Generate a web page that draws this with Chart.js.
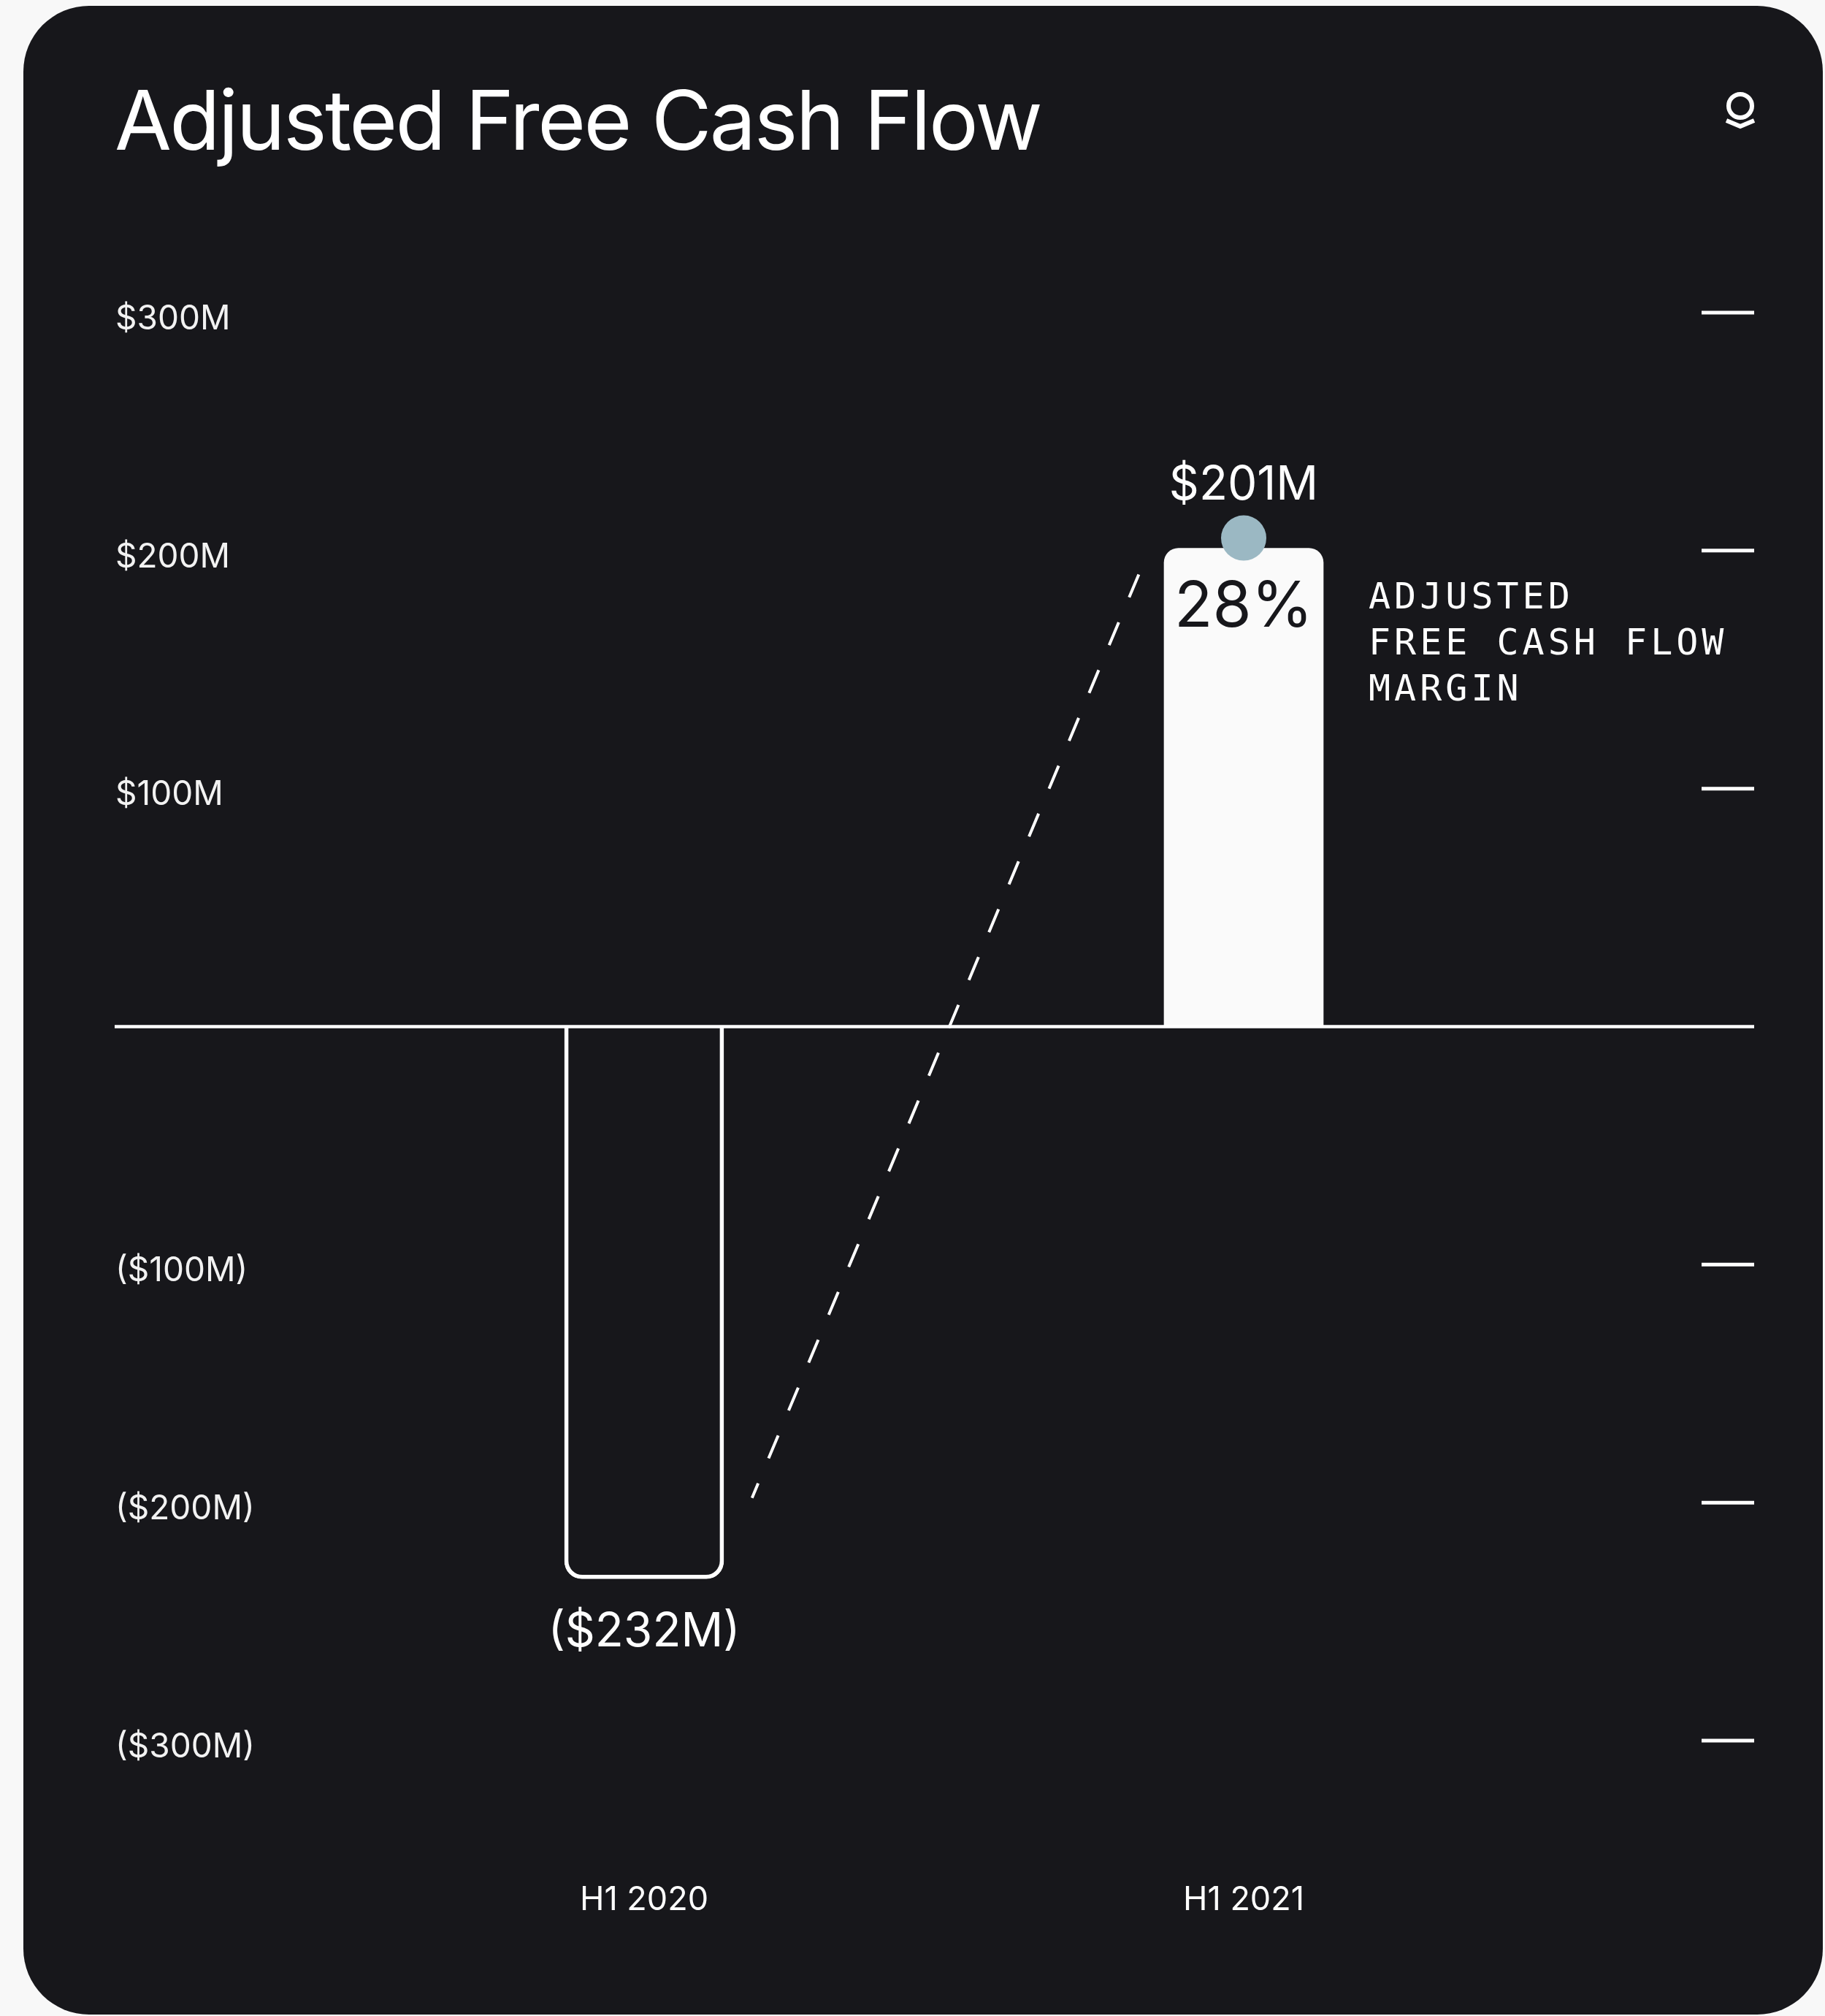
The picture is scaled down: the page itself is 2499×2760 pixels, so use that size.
<!DOCTYPE html>
<html>
<head>
<meta charset="utf-8">
<script src="https://cdn.jsdelivr.net/npm/chart.js@4"></script>
<style>
html, body { margin: 0; padding: 0; background: #f8f8f8; }
body { width: 2499px; height: 2760px; position: relative; overflow: hidden; }
#card { position: absolute; left: 32px; top: 8px; width: 2464px; height: 2750px; background: #17171b; border-radius: 90px; }
#title { position: absolute; left: 157px; top: 108px; margin: 0; font-family: Inter, sans-serif; font-weight: 400; font-size: 113px; letter-spacing: -2.6px; line-height: 1; color: #ffffff; white-space: nowrap; }
#logo { position: absolute; left: 2353px; top: 115px; }
#wrap { position: absolute; left: 0; top: 0; width: 2499px; height: 2760px; }
</style>
</head>
<body>
<div id="card"></div>
<h1 id="title">Adjusted Free Cash Flow</h1>
<svg id="logo" width="60" height="70" viewBox="0 0 60 70">
  <circle cx="30" cy="30" r="16" fill="none" stroke="#ffffff" stroke-width="6"/>
  <polyline points="11,50 30,58 49,50" fill="none" stroke="#ffffff" stroke-width="6"/>
</svg>
<div id="wrap"><canvas id="c" width="2499" height="2760"></canvas></div>
<script>
// ---- data ----
const categories = ['H1 2020', 'H1 2021'];
const cashFlow = [-232, 201];               // $M
const valueLabels = ['($232M)', '$201M'];
const marginLabels = ['', '28%'];
const marginCaption = ['ADJUSTED', 'FREE CASH FLOW', 'MARGIN'];
const yTickValues = [-300, -200, -100, 100, 200, 300];
const yTickLabels = ['($300M)', '($200M)', '($100M)', '$100M', '$200M', '$300M'];
// dashed trend connector: [category position, value $M]
const trendStart = [0.18, -198];
const trendEnd = [0.825, 190];

const CARD = '#17171b';
const WHITE = '#ffffff';

const decor = {
  id: 'decor',
  afterDatasetsDraw(chart) {
    const { ctx, scales: { x, y } } = chart;
    const meta = chart.getDatasetMeta(0);
    const neg = meta.data[0];
    const pos = meta.data[1];
    const z = y.getPixelForValue(0);
    ctx.save();

    // zero line
    ctx.strokeStyle = WHITE;
    ctx.lineWidth = 4.5;
    ctx.beginPath();
    ctx.moveTo(y.left - 1, z);
    ctx.lineTo(chart.width - 97, z);
    ctx.stroke();

    // right-side tick marks
    ctx.lineWidth = 5;
    yTickValues.forEach(v => {
      const py = y.getPixelForValue(v);
      ctx.beginPath();
      ctx.moveTo(chart.width - 169, py);
      ctx.lineTo(chart.width - 97, py);
      ctx.stroke();
    });

    // dashed connector
    ctx.lineWidth = 4;
    ctx.setLineDash([34, 37]);
    ctx.beginPath();
    ctx.moveTo(x.getPixelForValue(trendEnd[0]), y.getPixelForValue(trendEnd[1]));
    ctx.lineTo(x.getPixelForValue(trendStart[0]), y.getPixelForValue(trendStart[1]));
    ctx.stroke();
    ctx.setLineDash([]);

    // dot on top of positive bar
    ctx.fillStyle = '#9bb8c3';
    ctx.beginPath();
    ctx.arc(pos.x, pos.y - 14, 31, 0, Math.PI * 2);
    ctx.fill();

    // value labels
    ctx.textAlign = 'center';
    ctx.textBaseline = 'middle';
    ctx.fillStyle = WHITE;
    ctx.font = '400 64px Inter';
    ctx.fillText(valueLabels[1], pos.x, pos.y - 86);
    ctx.fillText(valueLabels[0], neg.x, neg.y + 73);

    // margin label inside bar
    ctx.fillStyle = CARD;
    ctx.font = '400 86px Inter';
    ctx.fillText(marginLabels[1], pos.x, pos.y + 82);

    // caption
    ctx.fillStyle = WHITE;
    ctx.textAlign = 'left';
    ctx.font = '400 50px "DejaVu Sans Mono"';
    ctx.letterSpacing = '5px';
    const cx = pos.x + pos.width / 2 + 62;
    marginCaption.forEach((t, i) => ctx.fillText(t, cx, pos.y + 69 + i * 63));
    ctx.letterSpacing = '0px';
    ctx.restore();
  }
};

new Chart(document.getElementById('c'), {
  type: 'bar',
  data: {
    labels: categories,
    datasets: [{
      data: cashFlow,
      backgroundColor: ctx => ctx.dataIndex === 0 ? 'rgba(0,0,0,0)' : '#fafafa',
      borderColor: ctx => ctx.dataIndex === 0 ? WHITE : '#fafafa',
      borderWidth: ctx => ctx.dataIndex === 0 ? 5 : 0,
      borderRadius: ctx => ctx.dataIndex === 0 ? 24 : 20,
      borderSkipped: 'start',
      barThickness: 218
    }]
  },
  options: {
    responsive: false,
    animation: false,
    devicePixelRatio: 1,
    layout: { padding: { left: 158, right: 385.5, top: 428, bottom: 100 } },
    plugins: { legend: { display: false }, tooltip: { enabled: false }, title: { display: false } },
    scales: {
      x: {
        offset: true,
        grid: { display: false, drawTicks: false },
        border: { display: false },
        afterFit: s => { s.height = 277; },
        ticks: { color: WHITE, font: { family: 'Inter', size: 45 }, padding: 191, maxRotation: 0 }
      },
      y: {
        min: -300,
        max: 300,
        afterBuildTicks: s => { s.ticks = yTickValues.map(v => ({ value: v })); },
        afterFit: s => { s.width = 313.5; },
        grid: { display: false },
        border: { display: false },
        ticks: {
          crossAlign: 'far',
          padding: 0,
          labelOffset: 9,
          color: '#f2f2f2',
          font: { family: 'Inter', size: 46 },
          callback: (v, i) => yTickLabels[yTickValues.indexOf(v)] ?? ''
        }
      }
    }
  },
  plugins: [decor]
});
</script>
</body>
</html>
